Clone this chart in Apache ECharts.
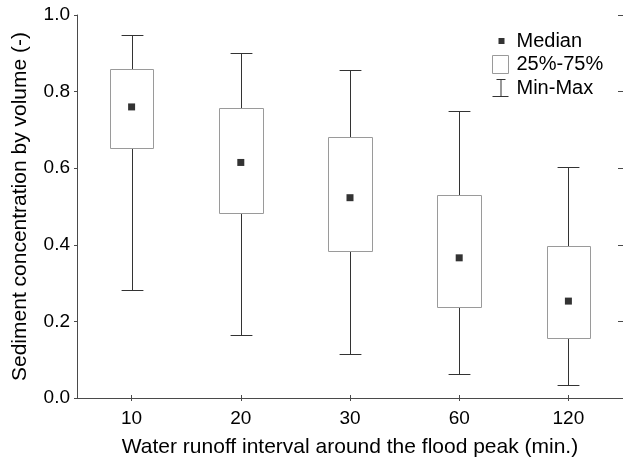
<!DOCTYPE html>
<html>
<head>
<meta charset="utf-8">
<script src="https://cdn.jsdelivr.net/npm/echarts@6/dist/echarts.min.js"></script>
<style>
  html, body { margin: 0; padding: 0; background: #fff; }
  #chart { width: 623px; height: 464px; }
</style>
</head>
<body>
<div id="chart"></div>
<script>
// Runoff intervals (minutes) and sediment concentration statistics per interval
const categories = ['10', '20', '30', '60', '120'];
const minValues    = [0.281, 0.164, 0.116, 0.062, 0.035];
const q1Values     = [0.653, 0.482, 0.384, 0.238, 0.156];
const medianValues = [0.760, 0.615, 0.523, 0.366, 0.253];
const q3Values     = [0.859, 0.756, 0.681, 0.531, 0.396];
const maxValues    = [0.948, 0.900, 0.856, 0.750, 0.604];

const yMin = 0, yMax = 1, yStep = 0.2;

const FONT = '"Liberation Sans", Arial, sans-serif';
const AXIS_COLOR = '#4a4a4a';
const BOX_COLOR = '#9a9a9a';
const WHISKER_COLOR = '#333';

const chart = echarts.init(document.getElementById('chart'), null, { renderer: 'canvas' });

const boxData = categories.map((c, i) => [i, q1Values[i], q3Values[i]]);
const whiskerData = categories.map((c, i) => [i, minValues[i], q1Values[i], q3Values[i], maxValues[i]]);
const medianData = categories.map((c, i) => [i, medianValues[i]]);

function crisp(v) { return Math.round(v) + 0.5; }

const option = {
  animation: false,
  backgroundColor: '#fff',
  textStyle: { fontFamily: FONT },
  grid: { left: 77, top: 15, width: 550, height: 383, containLabel: false },
  legend: {
    orient: 'vertical',
    left: 492,
    top: 31,
    padding: 0,
    itemWidth: 16,
    itemHeight: 18,
    itemGap: 3.5,
    selectedMode: false,
    textStyle: { fontFamily: FONT, fontSize: 20, color: '#000', padding: [0, 0, 0, 3] },
    data: [
      {
        name: 'Median',
        icon: 'path://M0,0M16,18M6,6h6v6h-6z',
        itemStyle: { color: '#000', borderWidth: 0 }
      },
      {
        name: '25%-75%',
        icon: 'rect',
        itemStyle: { color: '#fff', borderColor: BOX_COLOR, borderWidth: 1 }
      },
      {
        name: 'Min-Max',
        icon: 'path://M4,0h9v1h-9zM8,0h1v18h-1zM0,17h16v1h-16z',
        itemStyle: { color: WHISKER_COLOR, borderWidth: 0 }
      }
    ]
  },
  xAxis: [
    {
      type: 'category',
      data: categories,
      boundaryGap: true,
      position: 'bottom',
      name: 'Water runoff interval around the flood peak (min.)',
      nameLocation: 'middle',
      nameGap: 39,
      nameTextStyle: { fontFamily: FONT, fontSize: 21, color: '#000' },
      axisLine: { show: true, lineStyle: { color: AXIS_COLOR, width: 1 } },
      axisTick: { show: true, inside: true, length: 3, alignWithLabel: true, lineStyle: { color: AXIS_COLOR } },
      axisLabel: { fontFamily: FONT, fontSize: 19, color: '#000', margin: 11 },
      splitLine: { show: false }
    },
    {
      type: 'category',
      data: categories,
      boundaryGap: true,
      position: 'top',
      axisLine: { show: true, lineStyle: { color: AXIS_COLOR, width: 1 } },
      axisTick: { show: true, inside: true, length: 3, alignWithLabel: true, lineStyle: { color: AXIS_COLOR } },
      axisLabel: { show: false },
      splitLine: { show: false }
    }
  ],
  yAxis: [
    {
      type: 'value',
      min: yMin,
      max: yMax,
      interval: yStep,
      position: 'left',
      name: 'Sediment concentration by volume (-)',
      nameLocation: 'middle',
      nameGap: 46,
      nameTextStyle: { fontFamily: FONT, fontSize: 21, color: '#000' },
      axisLine: { show: true, lineStyle: { color: AXIS_COLOR, width: 1 } },
      axisTick: { show: true, inside: false, length: 3, lineStyle: { color: AXIS_COLOR } },
      axisLabel: { fontFamily: FONT, fontSize: 19, color: '#000', margin: 7, formatter: v => v.toFixed(1) },
      splitLine: { show: false }
    },
    {
      type: 'value',
      min: yMin,
      max: yMax,
      interval: yStep,
      position: 'right',
      axisLine: { show: true, lineStyle: { color: AXIS_COLOR, width: 1 } },
      axisTick: { show: true, inside: true, length: 5, lineStyle: { color: AXIS_COLOR } },
      axisLabel: { show: false },
      splitLine: { show: false }
    }
  ],
  series: [
    {
      name: 'Min-Max',
      type: 'custom',
      xAxisIndex: 0,
      yAxisIndex: 0,
      z: 2,
      data: whiskerData,
      encode: { x: 0, y: [1, 2, 3, 4] },
      renderItem: function (params, api) {
        const idx = api.value(0);
        const pMin = api.coord([idx, api.value(1)]);
        const pQ1 = api.coord([idx, api.value(2)]);
        const pQ3 = api.coord([idx, api.value(3)]);
        const pMax = api.coord([idx, api.value(4)]);
        const band = api.size([1, 0])[0];
        const capHalf = band * 0.1;
        const x = crisp(pMin[0]);
        const style = { stroke: WHISKER_COLOR, lineWidth: 1, fill: null };
        return {
          type: 'group',
          children: [
            { type: 'line', shape: { x1: x, y1: crisp(pMin[1]), x2: x, y2: crisp(pQ1[1]) }, style: style },
            { type: 'line', shape: { x1: x, y1: crisp(pQ3[1]), x2: x, y2: crisp(pMax[1]) }, style: style },
            { type: 'line', shape: { x1: x - capHalf, y1: crisp(pMin[1]), x2: x + capHalf, y2: crisp(pMin[1]) }, style: style },
            { type: 'line', shape: { x1: x - capHalf, y1: crisp(pMax[1]), x2: x + capHalf, y2: crisp(pMax[1]) }, style: style }
          ]
        };
      }
    },
    {
      name: '25%-75%',
      type: 'custom',
      xAxisIndex: 0,
      yAxisIndex: 0,
      z: 3,
      data: boxData,
      encode: { x: 0, y: [1, 2] },
      renderItem: function (params, api) {
        const idx = api.value(0);
        const pLow = api.coord([idx, api.value(1)]);
        const pHigh = api.coord([idx, api.value(2)]);
        const band = api.size([1, 0])[0];
        const half = band * 0.2;
        const x0 = crisp(pLow[0] - half);
        const x1 = crisp(pLow[0] + half);
        const yTop = crisp(pHigh[1]);
        const yBot = crisp(pLow[1]);
        return {
          type: 'rect',
          shape: { x: x0, y: yTop, width: x1 - x0, height: yBot - yTop },
          style: { fill: '#fff', stroke: BOX_COLOR, lineWidth: 1 }
        };
      }
    },
    {
      name: 'Median',
      type: 'scatter',
      xAxisIndex: 0,
      yAxisIndex: 0,
      z: 4,
      symbol: 'rect',
      symbolSize: 7,
      itemStyle: { color: '#000' },
      data: medianData
    }
  ]
};

chart.setOption(option);
</script>
</body>
</html>
